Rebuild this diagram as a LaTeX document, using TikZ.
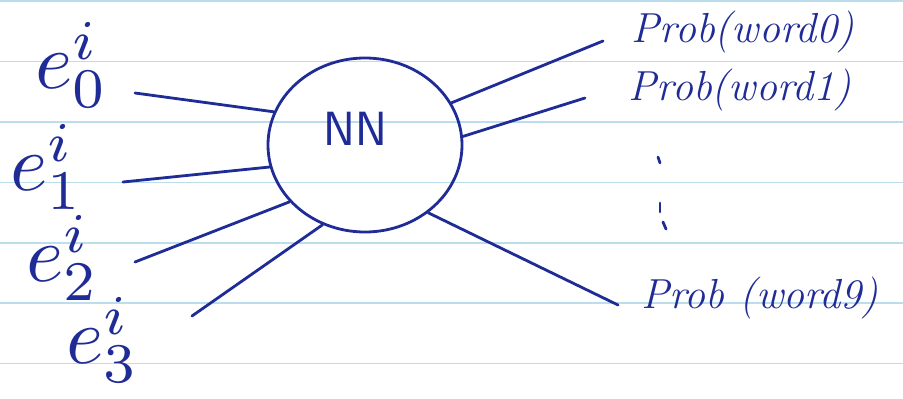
\documentclass[tikz,border=0pt]{standalone}
\usepackage{graphicx}
\usetikzlibrary{shapes.geometric}
\definecolor{ink}{RGB}{32,44,150}
\definecolor{paperrule}{RGB}{188,222,236}
\newcommand{\bigsym}[1]{\scalebox{8}{$#1$}}
\begin{document}
\begin{tikzpicture}[x=1pt,y=-1pt,
  inkline/.style={draw=ink,line width=2.8pt,line cap=round},
  problbl/.style={text=ink,font=\fontsize{42}{42}\selectfont\itshape,inner sep=0pt},
  elbl/.style={text=ink,inner sep=0pt},
  ruleline/.style={draw=paperrule,line width=1.5pt}]
\useasboundingbox (0,0) rectangle (903,399);
\fill[white] (0,0) rectangle (903,399);
\foreach \yy in {1,61.5,122,182.5,243,303,363.5} \draw[ruleline] (0,\yy) -- (903,\yy);
% network
\node[ellipse, draw=ink, line width=2.8pt, minimum width=194pt, minimum height=174pt, inner sep=0pt] (nn) at (365,145) {};
\node[text=ink,font=\fontsize{48}{48}\selectfont\sffamily,inner sep=0pt] (nnt) at (355,129) {NN};
% inputs
\node[elbl] (e0) at (72,65) {\bigsym{e^{i}_{0}}};
\node[elbl] (e1) at (47,167) {\bigsym{e^{i}_{1}}};
\node[elbl] (e2) at (63,258) {\bigsym{e^{i}_{2}}};
\node[elbl] (e3) at (103,340) {\bigsym{e^{i}_{3}}};
\coordinate (a0) at (135,93);
\coordinate (a1) at (123,182);
\coordinate (a2) at (135,262);
\coordinate (a3) at (192,316);
\draw[inkline] (a0) -- (nn.160);
\draw[inkline] (a1) -- (nn.193);
\draw[inkline] (a2) -- (nn.217);
\draw[inkline] (a3) -- (nn.242);
% outputs
\node[problbl] (p0) at (743,32) {Prob(word0)};
\node[problbl] (p1) at (740,90) {Prob(word1)};
\node[problbl] (p9) at (760,298) {Prob (word9)};
\coordinate (b0) at (603,41);
\coordinate (b1) at (585,98);
\coordinate (b9) at (618,305);
\draw[inkline] (nn.26) -- (b0);
\draw[inkline] (nn.5) -- (b1);
\draw[inkline] (nn.313) -- (b9);
% vertical dots
\draw[inkline] (658,157) -- (660,163);
\draw[inkline] (660,203) -- (660,212);
\draw[inkline] (663,222) -- (666,229);
\end{tikzpicture}
\end{document}
